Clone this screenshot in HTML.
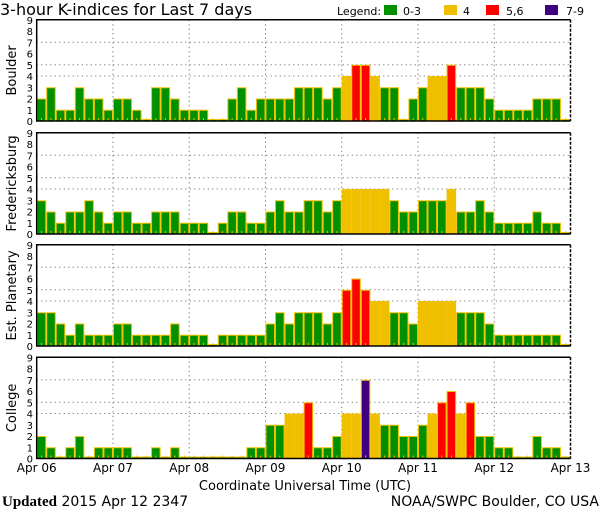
<!DOCTYPE html>
<html><head><meta charset="utf-8"><style>
body{margin:0;background:#fff;width:600px;height:510px;overflow:hidden}
svg{display:block;font-family:"DejaVu Sans","Liberation Sans",sans-serif}
</style></head><body>
<svg id="chart" width="600" height="510" xmlns="http://www.w3.org/2000/svg">
<text x="0" y="15" font-size="16">3-hour K-indices for Last 7 days</text>
<g font-size="11">
<text x="337" y="15">Legend:</text>
<rect x="384" y="5" width="13" height="10" fill="#009000"/>
<text x="403" y="15">0-3</text>
<rect x="444" y="5" width="13" height="10" fill="#f0c000"/>
<text x="463" y="15">4</text>
<rect x="486" y="5" width="13" height="10" fill="#ff0000"/>
<text x="506" y="15">5,6</text>
<rect x="545" y="5" width="13" height="10" fill="#400080"/>
<text x="566" y="15">7-9</text>
</g>
<text x="305" y="490" font-size="13" text-anchor="middle">Coordinate Universal Time (UTC)</text>
<text x="2" y="506" font-size="14"><tspan font-family="Liberation Serif,serif" font-weight="bold" font-size="15">Updated</tspan> 2015 Apr 12 2347</text>
<text x="599" y="506" font-size="14" text-anchor="end">NOAA/SWPC Boulder, CO USA</text>
</svg>
<script>
const stations = ["Boulder","Fredericksburg","Est. Planetary","College"];
const dayLabels = ["Apr 06","Apr 07","Apr 08","Apr 09","Apr 10","Apr 11","Apr 12","Apr 13"];
const yTicks = [0,1,2,3,4,5,6,7,8,9];
const gridLevels = [4,5,7];
const boulder = [2,3,1,1,3,2,2,1, 2,2,1,0,3,3,2,1, 1,1,0,0,2,3,1,2, 2,2,2,3,3,3,2,3, 4,5,5,4,3,3,0,2, 3,4,4,5,3,3,3,2, 1,1,1,1,2,2,2,0];
const fredericksburg = [3,2,1,2,2,3,2,1, 2,2,1,1,2,2,2,1, 1,1,0,1,2,2,1,1, 2,3,2,2,3,3,2,3, 4,4,4,4,4,3,2,2, 3,3,3,4,2,2,3,2, 1,1,1,1,2,1,1,0];
const planetary = [3,3,2,1,2,1,1,1, 2,2,1,1,1,1,2,1, 1,1,0,1,1,1,1,1, 2,3,2,3,3,3,2,3, 5,6,5,4,4,3,3,2, 4,4,4,4,3,3,3,2, 1,1,1,1,1,1,1,0];
const college = [2,1,0,1,2,0,1,1, 1,1,0,0,1,0,1,0, 0,0,0,0,0,0,1,1, 3,3,4,4,5,1,1,2, 4,4,7,4,3,3,2,2, 3,4,5,6,4,5,2,2, 1,1,0,0,2,1,1,0];
const series = [boulder,fredericksburg,planetary,college];

const svg = document.getElementById('chart');
const NS = 'http://www.w3.org/2000/svg';
const X0 = 36.7, X1 = 570.5, PH = 101.2;
const panelBottoms = [121, 234, 346, 458.5];
const nBars = 56;
const bw = (X1 - X0) / nBars;
function xScale(i){ return X0 + i*bw; }
function yScale(v, b){ return b - v*(PH/9); }
function color(v){ return v>=7?'#400080':v>=5?'#ff0000':v>=4?'#f0c000':'#009000'; }
function mk(tag, attrs, parent){ const e=document.createElementNS(NS,tag); for(const k in attrs) e.setAttribute(k,attrs[k]); (parent||svg).appendChild(e); return e; }

stations.forEach((name, p) => {
  const b = panelBottoms[p], top = b - PH;
  const g = mk('g', {});
  
  
  gridLevels.forEach(l => {
    const ln = mk('line', {x1:X0, x2:X1, y1:yScale(l,b), y2:yScale(l,b), stroke:'#777', 'stroke-dasharray':'1.2,3.3', 'stroke-width':1}, g);
    
    
  });
  for (let d=1; d<7; d++) {
    const x = xScale(d*8);
    const ln = mk('line', {x1:x, x2:x, y1:top, y2:b, stroke:'#777', 'stroke-dasharray':'1.2,3.3', 'stroke-width':1}, g);
    
    
  }
  series[p].forEach((v, i) => {
    const x = xScale(i), y = v===0 ? b-2 : yScale(v,b);
    const r = mk('rect', {x:x+0.5, y:y+0.5, width:bw-1, height:Math.max(b-y-0.5,1), fill:color(v), stroke:'#f0c000', 'stroke-width':1}, g);
    
    
    const t = mk('rect', {x:x+bw/2-0.5, y:b-3, width:1, height:2, fill:'#f0c000'}, g);
    
    
  });
  const f1 = mk('path', {d:`M${X1},${top} H${X0} V${b} H${X1}`, fill:'none', stroke:'#000', 'stroke-width':1.5}, g);
  
  
  const f2 = mk('line', {x1:X1, x2:X1, y1:top, y2:b, stroke:'#000', 'stroke-width':1.5, 'stroke-dasharray':'3,1.5'}, g);
  
  
  yTicks.forEach(t => {
    const tx = mk('text', {x:33, y:yScale(t,b)+4, 'font-size':10, 'text-anchor':'end'}, g);
    tx.textContent = t;
    
    
  });
  const yl = mk('text', {x:0, y:0, 'font-size':13, 'text-anchor':'middle', transform:`translate(16,${b-PH/2}) rotate(-90)`}, g);
  yl.textContent = name;
  
  
});
dayLabels.forEach((lab, d) => {
  const t = mk('text', {x:xScale(d*8), y:472, 'font-size':12, 'text-anchor':'middle'});
  t.textContent = lab;
  
  
});
</script>
</body></html>
